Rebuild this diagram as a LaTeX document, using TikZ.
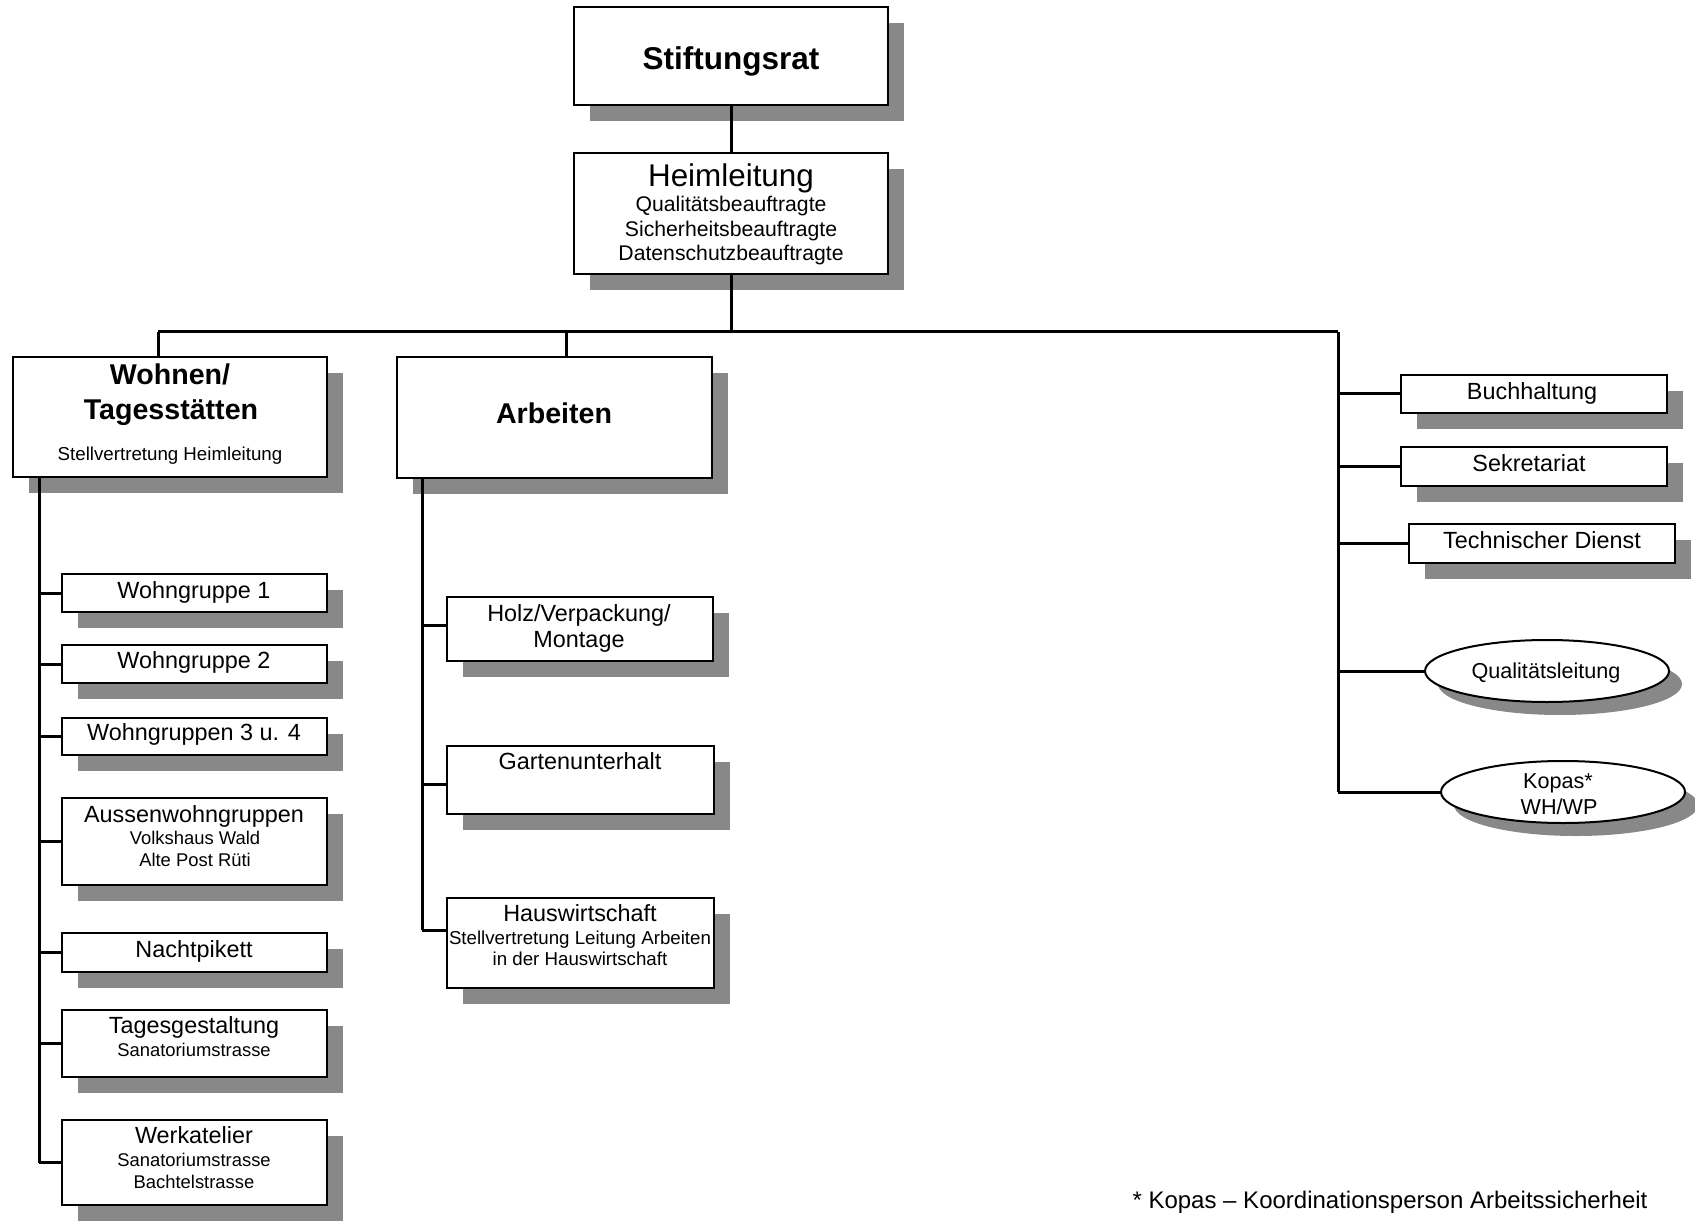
\documentclass[tikz,border=0pt]{standalone}
\usepackage{fontspec}
\setmainfont{Liberation Sans}
\usetikzlibrary{shapes.geometric,calc}
\definecolor{shadowc}{HTML}{888888}
\tikzset{
  boxst/.style={draw=black, line width=1pt, fill=white, rectangle, inner sep=0pt, outer sep=0pt},
  ellst/.style={draw=black, line width=1pt, fill=white, ellipse, inner sep=0pt, outer sep=0pt},
  conn/.style={line width=1.5pt, draw=black},
  tx/.style={anchor=base, inner sep=0pt, outer sep=0pt},
  ftitle/.style={tx, font=\fontsize{15.75}{19}\selectfont\bfseries},
  fhead/.style={tx, font=\fontsize{15.7}{19}\selectfont},
  fheadsub/.style={tx, font=\fontsize{10.6}{12.7}\selectfont},
  fsec/.style={tx, font=\fontsize{14.3}{17}\selectfont\bfseries},
  fsecsub/.style={tx, font=\fontsize{9.35}{11}\selectfont},
  fmain/.style={tx, font=\fontsize{11.7}{14}\selectfont},
  fsub/.style={tx, font=\fontsize{9.2}{11}\selectfont},
  fell/.style={tx, font=\fontsize{10.8}{13}\selectfont},
  fnote/.style={tx, font=\fontsize{12}{14.4}\selectfont},
}
\newcommand\orgbox[5]{%
  \fill[shadowc] ({#2+16},{#3+16}) rectangle ({#4+16},{#5+16});
  \node[boxst, minimum width={(#4-#2)*0.5pt}, minimum height={(#5-#3)*0.5pt}] (#1) at ({(#2+#4)/2},{(#3+#5)/2}) {};
}
\newcommand\orgell[5]{% name, cx, cy, w, h
  \fill[shadowc] ({#2+13},{#3+13}) ellipse [x radius={#4*0.25pt}, y radius={#5*0.25pt}];
  \node[ellst, minimum width={#4*0.5pt}, minimum height={#5*0.5pt}] (#1) at (#2,#3) {};
}
\begin{document}
\begin{tikzpicture}[x=0.5pt, y=-0.5pt]
\useasboundingbox (0,0) rectangle (1695,1224);

% coordinates for connector routing
\coordinate (busL) at (158,332);
\coordinate (busA) at (566,332);
\coordinate (busR) at (1338,332);
\coordinate (lv) at (39,332);
\coordinate (av) at (422,332);

\orgbox{stift}{574}{7}{888}{105}
\orgbox{heim}{574}{153}{888}{274}
\draw[conn] (stift.south) -- (heim.north);

\draw[conn] (heim.south) -- (heim.south |- busL);
\draw[conn] (busL) -- (busR);

\orgbox{wohn}{13}{357}{327}{477}
\orgbox{arb}{397}{357}{712}{478}
\draw[conn] (busL) -- (busL |- wohn.north);
\draw[conn] (busA) -- (busA |- arb.north);

\orgbox{wg1}{62}{574}{327}{612}
\orgbox{wg2}{62}{645}{327}{683}
\orgbox{wg3}{62}{718}{327}{755}
\orgbox{aus}{62}{798}{327}{885}
\orgbox{nacht}{62}{933}{327}{972}
\orgbox{tag}{62}{1010}{327}{1077}
\orgbox{werk}{62}{1120}{327}{1205}

\orgbox{holz}{447}{597}{713}{661}
\orgbox{gart}{447}{746}{714}{814}
\orgbox{haus}{447}{898}{714}{988}

\orgbox{buch}{1401}{375}{1667}{413}
\orgbox{sekr}{1401}{447}{1667}{486}
\orgbox{tech}{1409}{524}{1675}{563}
\orgell{qual}{1547}{671}{244}{62}
\orgell{kopas}{1563}{792}{244}{62}

% left branch
\draw[conn] (lv |- wohn.south) -- (lv |- werk.west);
\foreach \n in {wg1,wg2,wg3,aus,nacht,tag,werk}
  \draw[conn] (lv |- \n.west) -- (\n.west);

% middle branch
\draw[conn] (av |- arb.south) -- ($(av |- haus.west)+(0,-13)$);
\draw[conn] ($(av |- holz.west)+(0,-4)$) -- ($(holz.west)+(0,-4)$);
\draw[conn] ($(av |- gart.west)+(0,4)$) -- ($(gart.west)+(0,4)$);
\draw[conn] ($(av |- haus.west)+(0,-13)$) -- ($(haus.west)+(0,-13)$);

% right branch
\draw[conn] (busR) -- (busR |- kopas.west);
\foreach \n in {buch,sekr,tech,qual,kopas}
  \draw[conn] (busR |- \n.west) -- (\n.west);

% texts
\node[ftitle] (t1) at (731,70) {Stiftungsrat};
\node[fhead] (t2) at (731,187) {Heimleitung};
\node[fheadsub] (t3) at (731,212) {Qualitätsbeauftragte};
\node[fheadsub] (t4) at (731,237) {Sicherheitsbeauftragte};
\node[fheadsub] (t5) at (731,261) {Datenschutzbeauftragte};

\node[fsec] (t6) at (170,385) {Wohnen/};
\node[fsec] (t7) at (171,420) {Tagesstätten};
\node[fsecsub] (t8) at (170,460) {Stellvertretung Heimleitung};
\node[fsec] (t9) at (554,423) {Arbeiten};

\node[fmain] (t10) at (194,598) {Wohngruppe 1};
\node[fmain] (t11) at (194,668) {Wohngruppe 2};
\node[fmain] (t12) at (194,740) {Wohngruppen 3 u. 4};
\node[fmain] (t13) at (194,822) {Aussenwohngruppen};
\node[fsub] (t14) at (195,844) {Volkshaus Wald};
\node[fsub] (t15) at (195,866) {Alte Post Rüti};
\node[fmain] (t16) at (194,957) {Nachtpikett};
\node[fmain] (t17) at (194,1033) {Tagesgestaltung};
\node[fsub] (t18) at (194,1056) {Sanatoriumstrasse};
\node[fmain] (t19) at (194,1143) {Werkatelier};
\node[fsub] (t20) at (194,1166) {Sanatoriumstrasse};
\node[fsub] (t21) at (194,1188) {Bachtelstrasse};

\node[fmain] (t22) at (579,621) {Holz/Verpackung/};
\node[fmain] (t23) at (579,647) {Montage};
\node[fmain] (t24) at (580,769) {Gartenunterhalt};
\node[fmain] (t25) at (580,921) {Hauswirtschaft};
\node[fsecsub] (t26) at (580,944) {Stellvertretung Leitung Arbeiten};
\node[fsecsub] (t27) at (580,965) {in der Hauswirtschaft};

\node[fmain] (t28) at (1532,400) {Buchhaltung};
\node[fmain] (t29) at (1529,472) {Sekretariat};
\node[fmain] (t30) at (1542,548) {Technischer Dienst};
\node[fell] (t31) at (1546,678) {Qualitätsleitung};
\node[fell] (t32) at (1558,788) {Kopas*};
\node[fell] (t33) at (1559,814) {WH/WP};

\node[fnote] (t34) at (1390,1208) {* Kopas – Koordinationsperson Arbeitssicherheit};
\end{tikzpicture}
\end{document}
